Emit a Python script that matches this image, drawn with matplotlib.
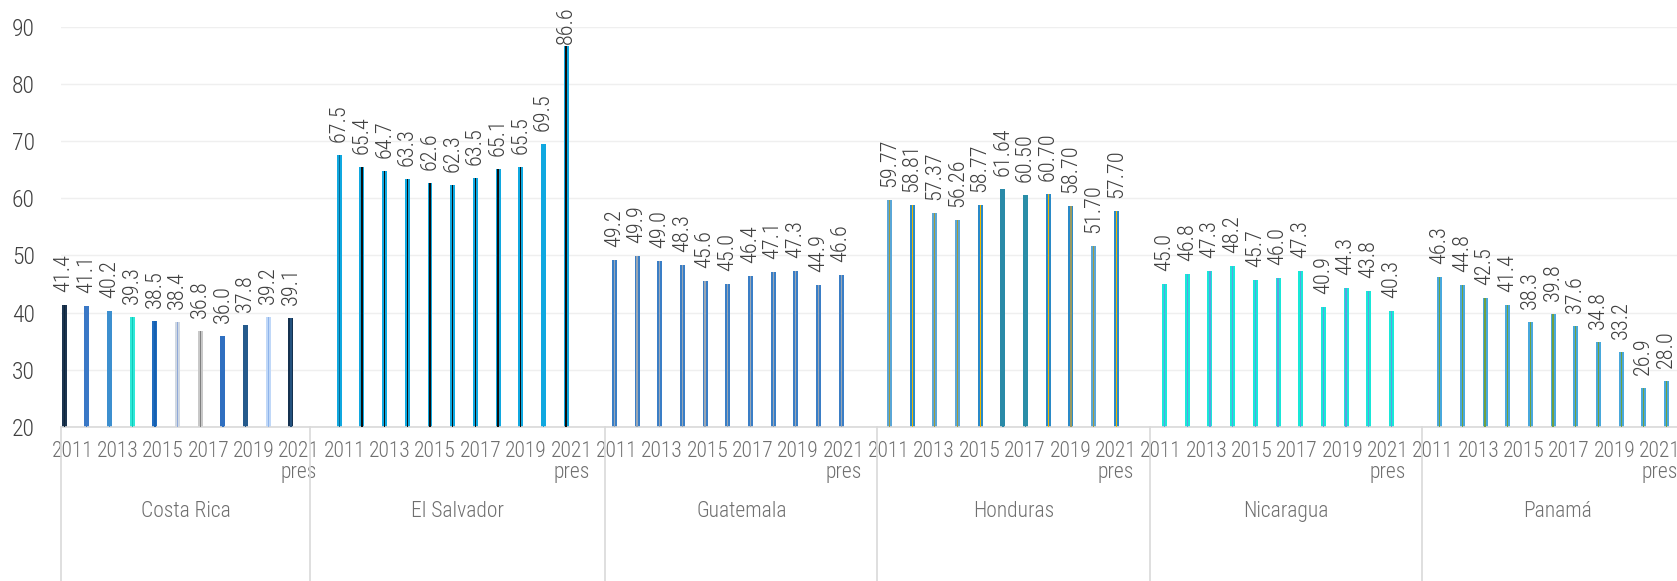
import matplotlib
matplotlib.use("Agg")
import matplotlib.pyplot as plt
import matplotlib.transforms as mtransforms

plt.rcParams['font.family'] = ['Roboto Condensed', 'DejaVu Sans']
plt.rcParams['font.weight'] = 300

countries = ['Costa Rica', 'El Salvador', 'Guatemala', 'Honduras', 'Nicaragua', 'Panamá']
years = ['2011', '2012', '2013', '2014', '2015', '2016', '2017', '2018', '2019', '2020', '2021\npres']

costa_rica = [41.4, 41.1, 40.2, 39.3, 38.5, 38.4, 36.8, 36.0, 37.8, 39.2, 39.1]
el_salvador = [67.5, 65.4, 64.7, 63.3, 62.6, 62.3, 63.5, 65.1, 65.5, 69.5, 86.6]
guatemala = [49.2, 49.9, 49.0, 48.3, 45.6, 45.0, 46.4, 47.1, 47.3, 44.9, 46.6]
honduras = [59.77, 58.81, 57.37, 56.26, 58.77, 61.64, 60.50, 60.70, 58.70, 51.70, 57.70]
nicaragua = [45.0, 46.8, 47.3, 48.2, 45.7, 46.0, 47.3, 40.9, 44.3, 43.8, 40.3]
panama = [46.3, 44.8, 42.5, 41.4, 38.3, 39.8, 37.6, 34.8, 33.2, 26.9, 28.0]
series = [costa_rica, el_salvador, guatemala, honduras, nicaragua, panama]
decimals = [1, 1, 1, 2, 1, 1]

# categories per country block and empty slots before the first year
block_len = [11, 13, 12, 12, 12, 12]
lead = [0, 1, 0, 0, 0, 0]

# outer / inner colours of each bar
outer = [
    ['#1c3550', '#3a78c6', '#3c8fcf', '#2ee8d8', '#1f6cc0', '#d0d8e2',
     '#c8c8c8', '#2f6fc0', '#255a8c', '#c0d8f8', '#15314f'],
    ['#10a8e0'] * 11,
    ['#3a7ec6'] * 11,
    ['#5aa6d6', '#2a8ac8', '#5aa6d6', '#5aa6d6', '#2a8ac8', '#2a8aa8',
     '#2a8ea8', '#2a8ac8', '#2a8ac8', '#5aa6d6', '#2a8ac8'],
    ['#18e8d8'] * 11,
    ['#48a8dc'] * 11,
]
inner = [
    ['#10253a', '#3a78c6', '#3c8fcf', '#12c8b8', '#1660b0', '#8fa8d8',
     '#808080', '#2f6fc0', '#255a8c', '#8fb4ea', '#24527f'],
    ['#0a6a90'] + ['#101010'] * 8 + ['#10a8e0', '#101010'],
    ['#9aa6b4'] * 11,
    ['#a09a40', '#f0b800', '#a09a40', '#a09a40', '#f0b800', '#2a8aa8',
     '#2a8ea8', '#f0b800', '#9a9a60', '#a09a40', '#f0b800'],
    ['#5aa0e0'] * 11,
    ['#70a040'] * 11,
]

W, H = 1677, 581
fig = plt.figure(figsize=(W / 100, H / 100), dpi=100)
cat_px = 22.68
n_cat = sum(block_len)
ax_top, ax_bot = 26.7, 427
ax = fig.add_axes([61 / W, 1 - ax_bot / H, n_cat * cat_px / W, (ax_bot - ax_top) / H])
px_per_unit = (ax_bot - ax_top) / 70

starts = [sum(block_len[:k]) for k in range(len(block_len))]
tick_pos, tick_lab = [], []
for k, vals in enumerate(series):
    first = starts[k] + lead[k]
    slot = 0.14 + 0.13 * k
    xs = [first + i + slot for i in range(len(vals))]
    ax.bar(xs, [v - 20 for v in vals], bottom=20, width=0.22, color=outer[k], zorder=2)
    ax.bar(xs, [v - 20 for v in vals], bottom=20, width=0.055, color=inner[k], zorder=3)
    for x, v in zip(xs, vals):
        # keep the label inside the figure when the bar is very tall
        bar_top = ax_top + (90 - v) * px_per_unit
        gap = max(2, min(13, bar_top - 46))
        ax.annotate(f'{v:.{decimals[k]}f}', (x, v), xytext=(0, gap * 0.72),
                    textcoords='offset points', rotation=90, ha='center', va='bottom',
                    fontsize=16, color='#404040')
    for i in range(0, len(years), 2):
        tick_pos.append(first + i + 0.5)
        tick_lab.append(years[i])

trans = mtransforms.blended_transform_factory(ax.transData, ax.transAxes)
bounds = starts + [n_cat]
for b in bounds:
    ax.plot([b, b], [0, -0.4], color='#d9d9d9', lw=1.2, transform=trans, clip_on=False)
for k, name in enumerate(countries):
    mid = starts[k] + block_len[k] / 2
    ax.text(mid, -0.212, name, transform=trans, ha='center', va='center',
            fontsize=15.5, color='#6f6f6f')

ax.set_xlim(0, n_cat)
ax.set_ylim(20, 90)
ax.set_yticks(range(20, 91, 10))
ax.set_xticks(tick_pos)
ax.set_xticklabels(tick_lab, fontsize=15.5, color='#6f6f6f', linespacing=1.0)
ax.tick_params(axis='x', length=0, pad=10)
ax.tick_params(axis='y', length=0, pad=19, labelsize=17, labelcolor='#404040')
ax.yaxis.grid(True, color='#efefef', lw=1)
ax.set_axisbelow(True)
for s in ['top', 'right', 'left']:
    ax.spines[s].set_visible(False)
ax.spines['bottom'].set_color('#d9d9d9')
ax.spines['bottom'].set_linewidth(1.2)

fig.savefig('out.png', dpi=100)
